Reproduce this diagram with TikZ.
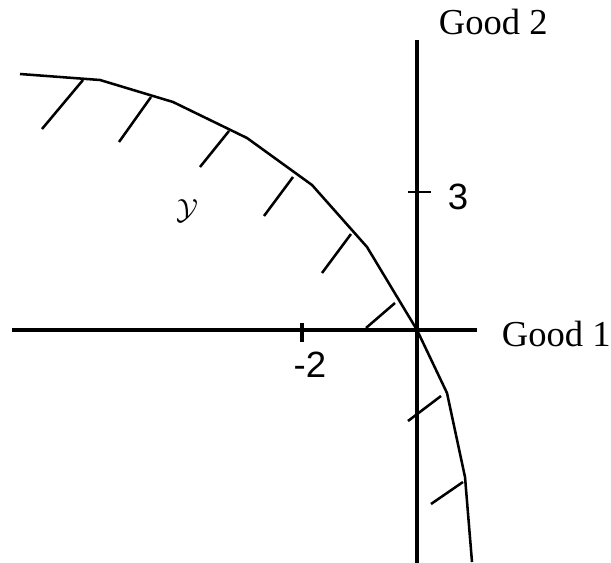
\documentclass[tikz,border=0pt]{standalone}
\usepackage{fontspec}
\setmainfont{Liberation Serif}
\newfontfamily\numfont{Liberation Sans}
\begin{document}
\begin{tikzpicture}[x=0.025cm, y=-0.025cm, every node/.style={font=\fontsize{26}{29}\selectfont}]
    \useasboundingbox (0,0) rectangle (611,563);
    % axes
    \coordinate (o) at (417,330);
    \draw[line width=2.6pt] (12,330) -- (477,330);
    \draw[line width=2.6pt] (417,40) -- (417,563);
    \node[anchor=west] (g1) at (497,334) {Good 1};
    \node[anchor=west] (g2) at (434,22) {Good 2};
    % ticks
    \draw[line width=1.8pt] (408,192) -- (431,192);
    \node (t3) at (458,197) {\numfont 3};
    \draw[line width=2.6pt] (302,323) -- (302,342);
    \node (tm2) at (310,365) {\numfont -2};
    % frontier
    \draw[line width=1.8pt, line join=round] (20,74) -- (100,80) -- (173,102) -- (247,138) -- (312,185)
      -- (367,247) -- (417,330) -- (447,393) -- (465,477) -- (472,562);
    % hatches
    \foreach \a/\b/\c/\d in {83/80/42/129, 151/97/119/142, 229/131/200/167, 293/177/264/216,
        351/234/322/273, 395/303/366/328, 441/396/408/421, 463/482/431/504}
      \draw[line width=1.8pt] (\a,\b) -- (\c,\d);
    \node (ys) at (187,211) {\fontsize{22}{24}\selectfont$\mathcal{Y}$};
\end{tikzpicture}
\end{document}
